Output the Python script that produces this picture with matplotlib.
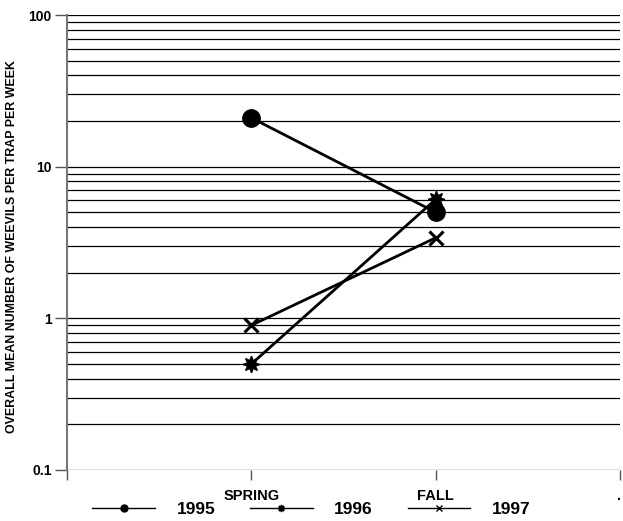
import matplotlib
matplotlib.use("Agg")
import matplotlib.pyplot as plt
from matplotlib.ticker import FixedLocator, LogLocator, NullFormatter

plt.rcParams['font.family'] = ['Liberation Sans', 'DejaVu Sans']
plt.rcParams['font.weight'] = 'bold'

# data
seasons = ['SPRING', 'FALL']
years = ['1995', '1996', '1997']
y1995 = [21.0, 5.0]
y1996 = [0.5, 6.1]
y1997 = [0.9, 3.4]
ytick_labels = ['0.1', '1', '10', '100']
ytick_values = [0.1, 1, 10, 100]

fig = plt.figure(figsize=(6.23, 5.21), dpi=100)
ax = fig.add_axes([0.1075, 0.098, 0.888, 0.873])

ax.set_yscale('log')
ax.set_ylim(0.1, 100)
ax.set_xlim(0, 3)
x = [1, 2]

# horizontal grid lines (major + minor)
ax.yaxis.set_major_locator(FixedLocator(ytick_values))
ax.set_yticklabels(ytick_labels)
ax.yaxis.set_minor_locator(LogLocator(base=10, subs=range(2, 10)))
ax.yaxis.set_minor_formatter(NullFormatter())
ax.grid(True, which='both', axis='y', color='black', lw=0.9)
ax.set_axisbelow(True)

big_star = (8, 1, 0)
l1, = ax.plot(x, y1995, color='black', lw=2, marker='o', ms=12.5)
l2, = ax.plot(x, y1996, color='black', lw=2, marker=big_star, ms=12)
l3, = ax.plot(x, y1997, color='black', lw=2, marker='x', ms=10, mew=2.2)

ax.set_xticks([0, 1, 2, 3])
ax.set_xticklabels(['', 'SPRING', 'FALL', ''])
ax.tick_params(axis='x', length=7, width=1, color='#555555', labelsize=10.5, pad=7)
ax.tick_params(axis='y', which='major', length=9, width=1, color='#555555',
               labelsize=10, pad=2)
ax.tick_params(axis='y', which='minor', length=0)
for lab in ax.get_xticklabels() + ax.get_yticklabels():
    lab.set_fontweight('bold')

for s in ['top', 'right']:
    ax.spines[s].set_visible(False)
ax.spines['left'].set_color('#777777')
ax.spines['left'].set_linewidth(1.5)
ax.spines['left'].set_bounds(0.1, 100)
ax.spines['bottom'].set_visible(False)

ax.set_ylabel('OVERALL MEAN NUMBER OF WEEVILS PER TRAP PER WEEK',
              fontsize=8.9, fontweight='bold')
ax.yaxis.set_label_coords(-0.089, 0.492)

# legend with small markers
h1, = ax.plot([], [], color='black', lw=1, marker='o', ms=5)
h2, = ax.plot([], [], color='black', lw=1, marker=big_star, ms=5)
h3, = ax.plot([], [], color='black', lw=1, marker='x', ms=4)
fig.legend([h1, h2, h3], years, loc='center', bbox_to_anchor=(0.5, 0.023),
           ncol=3, frameon=False, handlelength=3.6, handletextpad=1.25,
           columnspacing=2.0, prop={'size': 12.5, 'weight': 'bold'})
fig.text(0.99, 0.04, '.', fontsize=10)

fig.savefig('out.png', dpi=100)
